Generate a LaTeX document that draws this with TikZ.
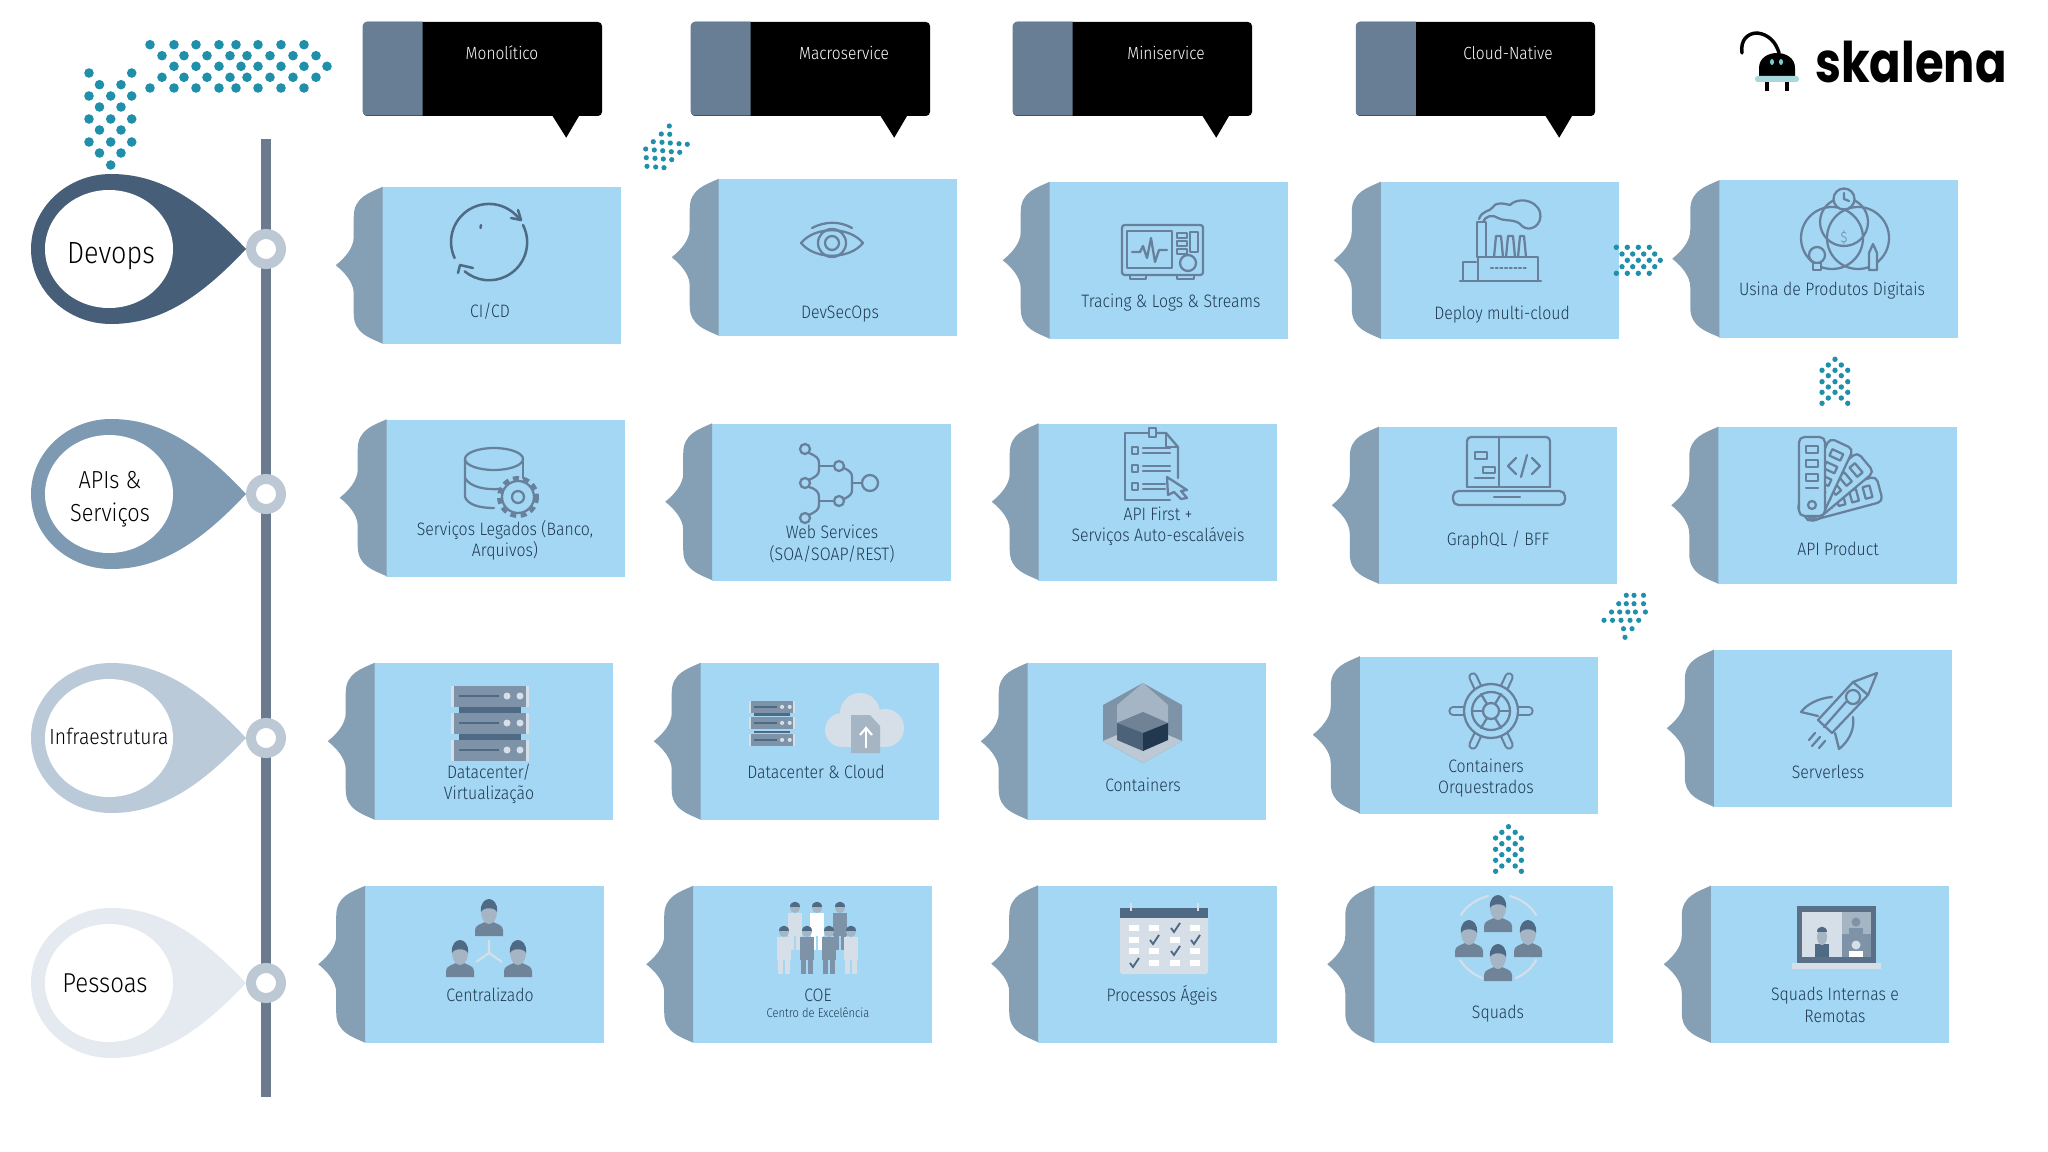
\documentclass[tikz,border=0pt]{standalone}
\usepackage{fontspec}
\setmainfont[FakeStretch=0.88,UprightFont=* Light]{Fira Sans}
\newfontfamily\logofont[FakeStretch=0.83]{Poppins}
\usetikzlibrary{positioning}
\definecolor{cardblue}{HTML}{A4D7F4}
\definecolor{tabgrey}{HTML}{859FB5}
\definecolor{inkblue}{HTML}{1F3A52}
\definecolor{iconblue}{HTML}{67809C}
\definecolor{headgrey}{HTML}{687E94}
\definecolor{railgrey}{HTML}{6C7A90}
\definecolor{ringgrey}{HTML}{BCC8D4}
\definecolor{dotteal}{HTML}{1F8FAA}
\definecolor{bustgrey}{HTML}{6F8499}
\definecolor{facegrey}{HTML}{A6B5C4}
\definecolor{hairgrey}{HTML}{4F6A85}
\definecolor{bladegrey}{HTML}{7F93A8}
\definecolor{palegrey}{HTML}{D6DFE7}
\begin{document}
\begin{tikzpicture}[x=0.75pt,y=0.75pt,yscale=-1,xscale=1,
  every pic/.style={yscale=-1},
  cardbody/.style={fill=cardblue,minimum width=179.25pt,minimum height=117.75pt,inner sep=0pt},
  cardtext/.style={text=inkblue,align=center,inner sep=0pt,font=\fontsize{13.5}{15.9}\selectfont},
  headbox/.style={fill=black,rounded corners=3pt,minimum width=179.25pt,minimum height=70.5pt,inner sep=0pt},
  headtext/.style={text=white,inner sep=0pt,font=\fontsize{13.2}{16}\selectfont},
  droptext/.style={text=black,align=center,inner sep=0pt},
  iconline/.style={draw=iconblue,line width=1.7pt,line join=round,line cap=round},
  iconfill/.style={draw=iconblue,fill=cardblue,line width=1.7pt,line join=round},
  cicdline/.style={draw=hairgrey,line width=1.9pt,line cap=round,line join=round},
  handleout/.style={draw=iconblue,line width=7pt,line cap=round},
  handlein/.style={draw=cardblue,line width=3.8pt,line cap=round},
  archline/.style={draw=palegrey,line width=1.6pt,line cap=round},
  dots/.style={fill=dotteal},
  cardtab/.pic={
    \fill[tabgrey] (1,0) .. controls (-12,6) and (-28,10) .. (-28,30) -- (-28,50) .. controls (-28,62) and (-38,72) .. (-46,78.5) .. controls (-38,85) and (-28,95) .. (-28,107) -- (-28,127) .. controls (-28,147) and (-12,151) .. (1,157) -- cycle;
  },
  headdeco/.pic={
    \fill[headgrey] (60,0) -- (4,0) .. controls (2,0) and (0,2) .. (0,4) -- (0,90) .. controls (0,92) and (2,94) .. (4,94) -- (60,94) -- cycle;
    \fill[black] (189,93) -- (217,93) -- (203.5,116) -- cycle;
  },
  teardrop/.pic={
    \path[fill] (135,0) .. controls (89,-49) and (49,-75) .. (0,-75) .. controls (-44,-75) and (-80,-41) .. (-80,0) .. controls (-80,41) and (-44,75) .. (0,75) .. controls (49,75) and (89,49) .. (135,0) -- cycle;
    \fill[white] (-2,0) ellipse (64 and 59);
  },
  person/.pic={
    \fill[bustgrey] (-14,0) -- (-14,-6) .. controls (-14,-11) and (-8,-12) .. (-4,-14) -- (4,-14) .. controls (8,-12) and (14,-11) .. (14,-6) -- (14,0) -- cycle;
    \fill[facegrey] (0,-24) ellipse (8 and 12);
    \fill[hairgrey] (-8,-24) .. controls (-9,-33) and (-4,-37) .. (0,-37) .. controls (4,-37) and (9,-33) .. (8,-24) .. controls (6,-29) and (-6,-29) .. (-8,-24) -- cycle;
  },
  standing/.pic={
    \path[fill] (-7,-37) rectangle (7,-14);
    \path[fill] (-6,-14) rectangle (-1,0);
    \path[fill] (1,-14) rectangle (6,0);
    \fill[facegrey] (0,-42) circle (5);
    \fill[hairgrey] (-5,-43) .. controls (-5,-50) and (5,-50) .. (5,-43) -- cycle;
  },
  serverblade/.pic={
    \fill[bladegrey] (0,0) rectangle (78,21);
    \fill[palegrey] (0,0) rectangle (3,21);
    \fill[palegrey] (75,0) rectangle (78,21);
    \draw[hairgrey,line width=1.2pt] (8,10) -- (48,10);
    \fill[palegrey] (56,10) circle (3.5);
    \fill[palegrey] (69,10) circle (3.5);
  },
  strip/.pic={
    \draw[iconfill,rounded corners=4pt] (-13,9) rectangle (13,-70);
    \draw[iconline] (-6,-61) rectangle (6,-54);
    \draw[iconline] (-6,-47) rectangle (6,-40);
    \draw[iconline] (-6,-33) rectangle (6,-26);
    \draw[iconline] (-6,-19) -- (6,-19);
  }]
\useasboundingbox (0,0) rectangle (2048,1152);

%Shape: Rail
\fill[railgrey] (261,139) rectangle (271,1097);
%Shape: Rings
\draw[draw=ringgrey,fill=white,line width=7.5pt] (266,249) circle (15);
\draw[draw=ringgrey,fill=white,line width=7.5pt] (266,494) circle (15);
\draw[draw=ringgrey,fill=white,line width=7.5pt] (266,738) circle (15);
\draw[draw=ringgrey,fill=white,line width=7.5pt] (266,983) circle (15);

%Shape: Teardrops
\pic[fill={rgb,255:red,70;green,94;blue,120}] at (111,249) {teardrop};
\pic[fill={rgb,255:red,126;green,153;blue,178}] at (111,494) {teardrop};
\pic[fill={rgb,255:red,187;green,202;blue,216}] at (111,738) {teardrop};
\pic[fill={rgb,255:red,228;green,234;blue,239}] at (111,983) {teardrop};
\node[droptext,font=\fontsize{23}{32}\selectfont] (devopstext) at (111,256) {Devops};
\node[droptext,font=\fontsize{18.5}{24.5}\selectfont] (apistext) at (110,499) {APIs \&\\Serviços};
\node[droptext,font=\fontsize{16.5}{20}\selectfont] (infratext) at (109,736) {Infraestrutura};
\node[droptext,font=\fontsize{20.5}{26}\selectfont] (pessoastext) at (105,983) {Pessoas};

%Shape: Column headers
\node[headbox] (monolitico) at (482.5,69) {};
\pic at (monolitico.north west) {headdeco};
\node[headtext] (monoliticotext) at (502,53) {Monolítico};
\node[headbox] (macroservice) at (810.5,69) {};
\pic at (macroservice.north west) {headdeco};
\node[headtext] (macroservicetext) at (844,53) {Macroservice};
\node[headbox] (miniservice) at (1132.5,69) {};
\pic at (miniservice.north west) {headdeco};
\node[headtext] (miniservicetext) at (1166,53) {Miniservice};
\node[headbox] (cloudnative) at (1475.5,69) {};
\pic at (cloudnative.north west) {headdeco};
\node[headtext] (cloudnativetext) at (1508,53) {Cloud-Native};

%Shape: Cards
\node[cardbody] (cicd) at (501.5,265.5) {};
\pic at (cicd.north west) {cardtab};
\node[cardbody] (devsecops) at (837.5,257.5) {};
\pic at (devsecops.north west) {cardtab};
\node[cardbody] (tracing) at (1168.5,260.5) {};
\pic at (tracing.north west) {cardtab};
\node[cardbody] (deploy) at (1499.5,260.5) {};
\pic at (deploy.north west) {cardtab};
\node[cardbody] (usina) at (1838,259) {};
\pic at (usina.north west) {cardtab};
\node[cardbody] (servicos) at (505.5,498) {};
\pic at (servicos.north west) {cardtab};
\node[cardbody] (webservices) at (831,502) {};
\pic at (webservices.north west) {cardtab};
\node[cardbody] (apifirst) at (1157.5,502) {};
\pic at (apifirst.north west) {cardtab};
\node[cardbody] (graphql) at (1497.5,505.5) {};
\pic at (graphql.north west) {cardtab};
\node[cardbody] (apiproduct) at (1837,505.5) {};
\pic at (apiproduct.north west) {cardtab};
\node[cardbody] (datacenter) at (493.5,741.5) {};
\pic at (datacenter.north west) {cardtab};
\node[cardbody] (dccloud) at (819.5,741.5) {};
\pic at (dccloud.north west) {cardtab};
\node[cardbody] (containers) at (1146.5,741.5) {};
\pic at (containers.north west) {cardtab};
\node[cardbody] (orquestrados) at (1478.5,735) {};
\pic at (orquestrados.north west) {cardtab};
\node[cardbody] (serverless) at (1832.5,728.5) {};
\pic at (serverless.north west) {cardtab};
\node[cardbody] (centralizado) at (484,964.5) {};
\pic at (centralizado.north west) {cardtab};
\node[cardbody] (coe) at (812,964.5) {};
\pic at (coe.north west) {cardtab};
\node[cardbody] (processos) at (1157,964) {};
\pic at (processos.north west) {cardtab};
\node[cardbody] (squads) at (1493,964.5) {};
\pic at (squads.north west) {cardtab};
\node[cardbody] (remotas) at (1829.5,964.5) {};
\pic at (remotas.north west) {cardtab};

%Shape: Card labels
\node[cardtext] (cicdtext) at (490,311) {CI/CD};
\node[cardtext] (devsecopstext) at (840,314) {DevSecOps};
\node[cardtext] (tracingtext) at (1171,303) {Tracing \& Logs \& Streams};
\node[cardtext] (deploytext) at (1502,315) {Deploy multi-cloud};
\node[cardtext] (usinatext) at (1832,291) {Usina de Produtos Digitais};
\node[cardtext] (servicostext) at (505,540) {Serviços Legados (Banco,\\Arquivos)};
\node[cardtext] (webservicestext) at (832,544) {Web Services\\(SOA/SOAP/REST)};
\node[cardtext] (apifirsttext) at (1158,526) {API First +\\Serviços Auto-escaláveis};
\node[cardtext] (graphqltext) at (1498,540) {GraphQL / BFF};
\node[cardtext] (apiproducttext) at (1838,549) {API Product};
\node[cardtext] (datacentertext) at (489,784) {Datacenter/\\Virtualização};
\node[cardtext] (dccloudtext) at (816,772) {Datacenter \& Cloud};
\node[cardtext] (containerstext) at (1143,785) {Containers};
\node[cardtext] (orquestradostext) at (1486,778) {Containers\\Orquestrados};
\node[cardtext] (serverlesstext) at (1828,772) {Serverless};
\node[cardtext] (centralizadotext) at (490,995) {Centralizado};
\node[cardtext] (coetext) at (818,995) {COE};
\node[cardtext,font=\fontsize{9.5}{11}\selectfont] (coesubtext) at (818,1013) {Centro de Excelência};
\node[cardtext] (processostext) at (1162,995) {Processos Ágeis};
\node[cardtext] (squadstext) at (1498,1014) {Squads};
\node[cardtext] (remotastext) at (1835,1005) {Squads Internas e\\Remotas};

%Shape: Icon CI/CD
\draw[cicdline] (454.6,258) arc[start angle=155,end angle=325,radius=38];
\draw[cicdline] (523,225) arc[start angle=-27,end angle=130,radius=38];
\draw[cicdline] (511,218) -- (521,220) -- (518,210);
\draw[cicdline] (458,273) -- (460,265) -- (473,268);
\draw[cicdline] (481,225) -- (480.5,228);

%Shape: Icon eye
\draw[iconline] (801,243) .. controls (815,226) and (849,226) .. (863,243) .. controls (849,260) and (815,260) .. (801,243) -- cycle;
\draw[iconline] (832,243) circle (14);
\draw[iconline] (832,243) circle (7);
\draw[iconline] (812,228) .. controls (825,221) and (840,221) .. (852,228);

%Shape: Icon monitor
\draw[iconline,rounded corners=2pt] (1122,225) rectangle (1203,275);
\draw[iconline] (1127,231) rectangle (1172,268);
\draw[iconline] (1132,252) -- (1140,252) -- (1143,246) -- (1147,258) -- (1151,238) -- (1155,262) -- (1159,250) -- (1167,250);
\draw[iconline] (1177,233) rectangle (1187,238);
\draw[iconline] (1177,241) rectangle (1187,246);
\draw[iconline] (1177,249) rectangle (1187,254);
\draw[iconline] (1190,232) rectangle (1198,252);
\draw[iconline] (1188,263) circle (8);
\draw[iconline] (1130,275) rectangle (1146,279);
\draw[iconline] (1177,275) rectangle (1194,279);

%Shape: Icon factory
\draw[iconline] (1460,281) -- (1541,281);
\draw[iconline] (1478,281) -- (1478,257) -- (1538,257) -- (1538,281);
\draw[iconline] (1477,257) -- (1477,222) -- (1486,222) -- (1486,257);
\draw[iconline] (1494,257) -- (1496,236) -- (1501,236) -- (1503,257);
\draw[iconline] (1506,257) -- (1508,236) -- (1513,236) -- (1515,257);
\draw[iconline] (1518,257) -- (1520,236) -- (1524,236) -- (1526,257);
\draw[iconline] (1463,281) -- (1463,262) -- (1476,262);
\draw[iconline,dash pattern=on 1.5pt off 2pt] (1491,268) -- (1528,268);
\draw[iconline] (1479,219) .. controls (1482,210) and (1490,212) .. (1493,207) .. controls (1497,201) and (1505,204) .. (1510,205) .. controls (1516,198) and (1535,198) .. (1540,212) .. controls (1543,225) and (1530,233) .. (1522,226) .. controls (1516,218) and (1505,222) .. (1498,218) .. controls (1493,214) and (1485,216) .. (1483,222);

%Shape: Icon venn
\draw[iconline] (1832,238) circle (31);
\draw[iconline] (1858,238) circle (31);
\draw[iconline] (1844,222) circle (24);
\draw[iconfill] (1844,199) circle (10.5);
\draw[iconline] (1844,193) -- (1844,199) -- (1849,201);
\node[cardtext,text=iconblue,font=\fontsize{11}{12}\selectfont] (usinadollar) at (1844,238) {\$};
\draw[iconfill] (1817,255) circle (8);
\draw[iconfill] (1813,263) rectangle (1821,270);
\draw[iconfill] (1869,270) -- (1869,253) -- (1873,244) -- (1877,253) -- (1877,270) -- cycle;

%Shape: Icon database
\draw[iconline] (494,459) ellipse (29 and 11);
\draw[iconline] (465,459) -- (465,497) .. controls (468,505) and (480,508) .. (494,508);
\draw[iconline] (523,459) -- (523,478);
\draw[iconline] (465,478) .. controls (470,487) and (485,490) .. (500,489);
\draw[draw=iconblue,line width=3pt,dash pattern=on 4.5pt off 3.4pt] (518,497) circle (19);
\draw[iconfill] (518,497) circle (16);
\draw[iconline] (518,497) circle (6);

%Shape: Icon tree
\draw[iconline] (805,449) circle (5);
\draw[iconline] (805,483) circle (5);
\draw[iconline] (805,518) circle (5);
\draw[iconline] (839,466) circle (5);
\draw[iconline] (839,501) circle (5);
\draw[iconline] (870,483) circle (8);
\draw[iconline] (809,453) .. controls (816,456) and (819,458) .. (819,463) -- (819,470) .. controls (819,475) and (815,477) .. (809,480);
\draw[iconline] (819,466) -- (834,466);
\draw[iconline] (809,487) .. controls (816,489) and (819,492) .. (819,497) -- (819,505) .. controls (819,510) and (815,512) .. (809,515);
\draw[iconline] (819,501) -- (834,501);
\draw[iconline] (844,468) .. controls (850,471) and (852,473) .. (852,477) -- (852,490) .. controls (852,494) and (850,496) .. (844,499);
\draw[iconline] (852,483) -- (862,483);

%Shape: Icon checklist
\draw[iconline] (1148,433) -- (1125,433) -- (1125,500) -- (1170,500);
\draw[iconline] (1157,433) -- (1166,433) -- (1178,447) -- (1178,478);
\draw[iconline] (1166,433) -- (1166,447) -- (1178,447);
\draw[iconline] (1149,428) rectangle (1156,437);
\draw[iconline] (1132,447) rectangle (1138,454);
\draw[iconline] (1143,448) -- (1170,448);
\draw[iconline] (1143,453) -- (1170,453);
\draw[iconline] (1132,465) rectangle (1138,472);
\draw[iconline] (1143,466) -- (1170,466);
\draw[iconline] (1143,471) -- (1170,471);
\draw[iconline] (1132,483) rectangle (1138,490);
\draw[iconline] (1143,484) -- (1165,484);
\draw[iconline] (1143,489) -- (1165,489);
\draw[iconfill] (1167,477) -- (1187,490) -- (1181,491) -- (1187,498) -- (1181,499) -- (1174,492) -- (1168,495) -- cycle;

%Shape: Icon laptop
\draw[iconline,rounded corners=3pt] (1467,487) -- (1467,437) -- (1550,437) -- (1550,487);
\draw[iconline] (1499,437) -- (1499,487);
\draw[iconline] (1475,452) rectangle (1487,459);
\draw[iconline] (1483,467) rectangle (1495,473);
\draw[iconline] (1475,478) -- (1494,478);
\draw[iconline] (1516,458) -- (1508,466) -- (1516,474);
\draw[iconline] (1532,458) -- (1540,466) -- (1532,474);
\draw[iconline] (1521,477) -- (1527,455);
\draw[iconline] (1467,487) -- (1550,487);
\draw[iconline,rounded corners=4pt] (1453,491) rectangle (1565,505);
\draw[iconline] (1494,497) -- (1520,497);

%Shape: Icon swatches
\pic[rotate=-75] at (1812,507) {strip};
\pic[rotate=-50] at (1812,507) {strip};
\pic[rotate=-25] at (1812,507) {strip};
\pic at (1812,507) {strip};
\draw[iconline] (1812,505) circle (4);

%Shape: Icon servers
\fill[hairgrey] (459,707) rectangle (521,713);
\fill[hairgrey] (459,734) rectangle (521,740);
\pic at (451,686) {serverblade};
\pic at (451,713) {serverblade};
\pic at (451,740) {serverblade};

%Shape: Icon cloud servers
\fill[hairgrey] (754,713) rectangle (790,716);
\fill[hairgrey] (754,731) rectangle (790,733);
\pic[scale=0.59] at (749,701) {serverblade};
\pic[scale=0.59] at (749,717) {serverblade};
\pic[scale=0.59] at (749,734) {serverblade};
\fill[palegrey] (842,730) circle (17);
\fill[palegrey] (860,713) circle (20);
\fill[palegrey] (885,728) circle (19);
\fill[palegrey] (842,725) rectangle (885,747);
\fill[facegrey] (851,715) -- (870,715) -- (880,726) -- (880,753) -- (851,753) -- cycle;
\draw[white,line width=1.6pt] (866,748) -- (866,728);
\draw[white,line width=1.6pt] (860,735) -- (866,728) -- (872,735);

%Shape: Icon container
\fill[bladegrey] (1143,683) -- (1182,705) -- (1182,741) -- (1143,763) -- (1103,741) -- (1103,705) -- cycle;
\fill[facegrey] (1143,683) -- (1168,705) -- (1168,723) -- (1143,712) -- (1117,723) -- (1117,705) -- cycle;
\fill[ringgrey] (1103,741) -- (1117,735) -- (1143,751) -- (1168,735) -- (1182,741) -- (1143,763) -- cycle;
\fill[fill={rgb,255:red,111;green,130;blue,150}] (1143,712) -- (1168,723) -- (1143,733) -- (1117,723) -- cycle;
\fill[fill={rgb,255:red,76;green,98;blue,120}] (1117,723) -- (1143,733) -- (1143,751) -- (1117,740) -- cycle;
\fill[fill={rgb,255:red,34;green,56;blue,78}] (1168,723) -- (1143,733) -- (1143,751) -- (1168,740) -- cycle;

%Shape: Icon helm
\draw[handleout] (1518,711) -- (1529,711);
\draw[handleout] (1464,711) -- (1453,711);
\draw[handleout] (1503,690) -- (1509,677);
\draw[handleout] (1479,690) -- (1473,677);
\draw[handleout] (1503,732) -- (1509,745);
\draw[handleout] (1479,732) -- (1473,745);
\draw[handlein] (1518,711) -- (1529,711);
\draw[handlein] (1464,711) -- (1453,711);
\draw[handlein] (1503,690) -- (1509,677);
\draw[handlein] (1479,690) -- (1473,677);
\draw[handlein] (1503,732) -- (1509,745);
\draw[handlein] (1479,732) -- (1473,745);
\draw[iconfill] (1491,711) circle (27);
\draw[iconline] (1491,711) circle (19);
\draw[iconline] (1491,711) circle (8);
\draw[iconline] (1499,711) -- (1510,711);
\draw[iconline] (1483,711) -- (1472,711);
\draw[iconline] (1495,704) -- (1501,694);
\draw[iconline] (1487,704) -- (1481,694);
\draw[iconline] (1495,718) -- (1501,728);
\draw[iconline] (1487,718) -- (1481,728);

%Shape: Icon rocket
\draw[iconline] (1877,673) -- (1853,682) -- (1818,720) -- (1832,733) -- (1868,695) -- cycle;
\draw[iconline] (1853,682) -- (1868,695);
\draw[iconline] (1832,697) .. controls (1818,698) and (1806,705) .. (1801,712) -- (1818,716);
\draw[iconline] (1853,717) .. controls (1855,730) and (1848,742) .. (1839,749) -- (1835,733);
\draw[iconline] (1853,697) circle (7);
\draw[iconline] (1846,702) -- (1824,727);
\draw[iconline] (1815,733) -- (1809,740);
\draw[iconline] (1820,737) -- (1812,746);
\draw[iconline] (1825,741) -- (1819,748);

%Shape: Icon centralized team
\draw[draw=palegrey,line width=1.6pt] (489,940) -- (489,953) -- (476,962);
\draw[draw=palegrey,line width=1.6pt] (489,953) -- (502,962);
\pic at (489,936) {person};
\pic at (460,977) {person};
\pic at (518,977) {person};

%Shape: Icon group
\pic[fill=palegrey] at (795,950) {standing};
\pic[fill=white] at (817,950) {standing};
\pic[fill=bladegrey] at (840,950) {standing};
\pic[fill=palegrey] at (784,974) {standing};
\pic[fill=bladegrey] at (807,974) {standing};
\pic[fill=bladegrey] at (829,974) {standing};
\pic[fill=palegrey] at (851,974) {standing};

%Shape: Icon calendar
\fill[palegrey,rounded corners=2pt] (1120,908) rectangle (1208,974);
\fill[hairgrey] (1120,908) rectangle (1208,918);
\draw[draw=palegrey,line width=1.6pt] (1131,903) -- (1131,911);
\draw[draw=palegrey,line width=1.6pt] (1198,903) -- (1198,911);
\fill[white] (1129,925) rectangle (1139,931);
\fill[white] (1149,925) rectangle (1159,931);
\fill[white] (1190,925) rectangle (1200,931);
\fill[white] (1129,937) rectangle (1139,943);
\fill[white] (1170,937) rectangle (1180,943);
\fill[white] (1129,948) rectangle (1139,954);
\fill[white] (1149,948) rectangle (1159,954);
\fill[white] (1190,948) rectangle (1200,954);
\fill[white] (1149,960) rectangle (1159,966);
\fill[white] (1170,960) rectangle (1180,966);
\fill[white] (1190,960) rectangle (1200,966);
\draw[hairgrey,line width=1.4pt] (1171,928) -- (1174,932) -- (1180,923);
\draw[hairgrey,line width=1.4pt] (1150,940) -- (1153,944) -- (1159,935);
\draw[hairgrey,line width=1.4pt] (1191,940) -- (1194,944) -- (1200,935);
\draw[hairgrey,line width=1.4pt] (1171,951) -- (1174,955) -- (1180,946);
\draw[hairgrey,line width=1.4pt] (1130,963) -- (1133,967) -- (1139,958);

%Shape: Icon squads
\draw[archline] (1461,915) .. controls (1466,906) and (1477,899) .. (1488,896);
\draw[archline] (1510,896) .. controls (1521,899) and (1531,906) .. (1536,915);
\draw[archline] (1460,960) .. controls (1465,968) and (1473,974) .. (1482,978);
\draw[archline] (1516,978) .. controls (1525,974) and (1532,968) .. (1536,960);
\pic at (1498,932) {person};
\pic at (1469,957) {person};
\pic at (1528,957) {person};
\pic at (1498,981) {person};

%Shape: Icon video call
\fill[fill={rgb,255:red,90;green,112;blue,134}] (1797,906) rectangle (1876,963);
\fill[palegrey] (1802,912) rectangle (1841.5,957);
\fill[facegrey] (1841.5,912) rectangle (1871,934);
\fill[bladegrey] (1841.5,934) rectangle (1871,957);
\fill[palegrey] (1792,963) rectangle (1881,969);
\fill[hairgrey] (1815,957) rectangle (1829,944);
\fill[facegrey] (1822,937) ellipse (5 and 8);
\fill[hairgrey] (1817,932) .. controls (1817,925) and (1827,925) .. (1827,932) -- cycle;
\fill[bladegrey] (1849,934) rectangle (1863,928);
\fill[bladegrey] (1856,922) circle (4.5);
\fill[white] (1849,957) rectangle (1863,951);
\fill[palegrey] (1856,945) circle (4.5);

%Shape: Dots top left
\fill[dots] (150,44.7) circle (4.8) (174,44.7) circle (4.8) (196,44.7) circle (4.8) (219,44.7) circle (4.8) (236,44.7) circle (4.8) (258,44.7) circle (4.8) (281,44.7) circle (4.8) (304,44.7) circle (4.8)
 (162,55.7) circle (4.8) (184,55.7) circle (4.8) (207,55.7) circle (4.8) (230,55.7) circle (4.8) (247,55.7) circle (4.8) (270,55.7) circle (4.8) (293,55.7) circle (4.8) (316,55.7) circle (4.8)
 (174,66.3) circle (4.8) (196,66.3) circle (4.8) (219,66.3) circle (4.8) (241,66.3) circle (4.8) (258,66.3) circle (4.8) (281,66.3) circle (4.8) (304,66.3) circle (4.8) (327,66.3) circle (4.8)
 (162,77.3) circle (4.8) (184,77.3) circle (4.8) (207,77.3) circle (4.8) (230,77.3) circle (4.8) (247,77.3) circle (4.8) (270,77.3) circle (4.8) (293,77.3) circle (4.8) (316,77.3) circle (4.8)
 (150,88) circle (4.8) (174,88) circle (4.8) (196,88) circle (4.8) (219,88) circle (4.8) (236,88) circle (4.8) (258,88) circle (4.8) (281,88) circle (4.8) (304,88) circle (4.8);
\fill[dots] (89,73) circle (4.8) (131.7,73) circle (4.8)
 (99.5,84.7) circle (4.8) (121,84.7) circle (4.8)
 (89,96) circle (4.8) (110.7,96) circle (4.8) (131.7,96) circle (4.8)
 (99.5,107) circle (4.8) (121,107) circle (4.8)
 (89,119) circle (4.8) (110.7,119) circle (4.8) (131.7,119) circle (4.8)
 (99.5,130) circle (4.8) (121,130) circle (4.8)
 (89,142) circle (4.8) (110.7,142) circle (4.8) (131.7,142) circle (4.8)
 (99.5,153) circle (4.8) (121,153) circle (4.8)
 (110.7,165) circle (4.8);

%Shape: Dots up right
\fill[dots] (669.3,126) circle (2.6)
 (661.3,134) circle (2.6) (669.7,134.3) circle (2.6)
 (653.3,141.7) circle (2.6) (662,142.3) circle (2.6) (670.3,143) circle (2.6) (679,143.7) circle (2.6) (687.3,144.3) circle (2.6)
 (645.7,149) circle (2.6) (654.3,150) circle (2.6) (662.7,150.7) circle (2.6) (671.3,151.7) circle (2.6) (679.7,152.3) circle (2.6)
 (646.3,157.7) circle (2.6) (655,158.3) circle (2.6) (663.3,159) circle (2.6) (671.7,159.7) circle (2.6)
 (647,166.3) circle (2.6) (655.7,167) circle (2.6) (664,167.7) circle (2.6);

%Shape: Dots right
\fill[dots] (1616.3,247.3) circle (2.7) (1627.3,247.3) circle (2.7) (1638.3,247.3) circle (2.7) (1649.3,247.3) circle (2.7)
 (1622,254) circle (2.7) (1632.7,254) circle (2.7) (1643.7,254) circle (2.7) (1654.7,254) circle (2.7)
 (1627.3,260.3) circle (2.7) (1638.3,260.3) circle (2.7) (1649.3,260.3) circle (2.7) (1660.3,260.3) circle (2.7)
 (1622,266.7) circle (2.7) (1632.7,266.7) circle (2.7) (1643.7,266.7) circle (2.7) (1654.7,266.7) circle (2.7)
 (1616.3,273.3) circle (2.7) (1627.3,273.3) circle (2.7) (1638.3,273.3) circle (2.7) (1649.3,273.3) circle (2.7);

%Shape: Dots up
\fill[dots] (1835,359.3) circle (2.7)
 (1828.3,365) circle (2.7) (1841.3,365) circle (2.7)
 (1822,370.3) circle (2.7) (1835,370.3) circle (2.7) (1847.7,370.3) circle (2.7)
 (1828.3,375.7) circle (2.7) (1841.3,375.7) circle (2.7)
 (1822,381.7) circle (2.7) (1835,381.7) circle (2.7) (1847.7,381.7) circle (2.7)
 (1828.3,387) circle (2.7) (1841.3,387) circle (2.7)
 (1822,392.3) circle (2.7) (1835,392.3) circle (2.7) (1847.7,392.3) circle (2.7)
 (1828.3,398) circle (2.7) (1841.3,398) circle (2.7)
 (1822,403.3) circle (2.7) (1847.7,403.3) circle (2.7);

%Shape: Dots down
\fill[dots] (1626.3,595.3) circle (2.6) (1634,595.3) circle (2.6) (1643.5,595.3) circle (2.6)
 (1618.7,603.7) circle (2.6) (1626.3,603.7) circle (2.6) (1634,603.7) circle (2.6) (1643.5,603.7) circle (2.6)
 (1611.5,612) circle (2.6) (1619.7,612) circle (2.6) (1627.8,612) circle (2.6) (1635.4,612) circle (2.6) (1645.4,612) circle (2.6)
 (1604,620.3) circle (2.6) (1612.5,620.3) circle (2.6) (1621,620.3) circle (2.6) (1630,620.3) circle (2.6) (1638.7,620.3) circle (2.6)
 (1623.5,628.7) circle (2.6) (1632,628.7) circle (2.6)
 (1625,637.3) circle (2.6);

%Shape: Dots squads
\fill[dots] (1508.5,826.7) circle (2.7)
 (1501.8,832.3) circle (2.7) (1515.2,832.3) circle (2.7)
 (1495.6,838) circle (2.7) (1508.5,838) circle (2.7) (1521.4,838) circle (2.7)
 (1501.8,843.7) circle (2.7) (1515.2,843.7) circle (2.7)
 (1495.6,849.3) circle (2.7) (1508.5,849.3) circle (2.7) (1521.4,849.3) circle (2.7)
 (1501.8,854.7) circle (2.7) (1515.2,854.7) circle (2.7)
 (1495.6,860.3) circle (2.7) (1508.5,860.3) circle (2.7) (1521.4,860.3) circle (2.7)
 (1501.8,866) circle (2.7) (1515.2,866) circle (2.7)
 (1495.6,871.3) circle (2.7) (1521.4,871.3) circle (2.7);

%Shape: Logo
\draw[black,line width=2.6pt,line cap=round] (1742,53) .. controls (1740,40) and (1748,33) .. (1757,33) .. controls (1768,34) and (1776,42) .. (1779,53);
\fill[black] (1759,76) -- (1759,68) .. controls (1759,58) and (1768,53) .. (1777,53) .. controls (1786,53) and (1795,58) .. (1795,68) -- (1795,76) -- cycle;
\fill[fill={rgb,255:red,122;green,205;blue,214}] (1772,62) ellipse (2 and 3);
\fill[fill={rgb,255:red,122;green,205;blue,214}] (1781,62) ellipse (2 and 3);
\fill[fill={rgb,255:red,168;green,216;blue,218},rounded corners=2pt] (1755,76) rectangle (1799,82);
\fill[black] (1765,82) rectangle (1769,91);
\fill[black] (1785,82) rectangle (1789,91);
\node[inner sep=0pt,text=black,anchor=base west] (skalenatext) at (1815,83) {\logofont\bfseries\fontsize{42}{42}\selectfont skalena};
\end{tikzpicture}
\end{document}
